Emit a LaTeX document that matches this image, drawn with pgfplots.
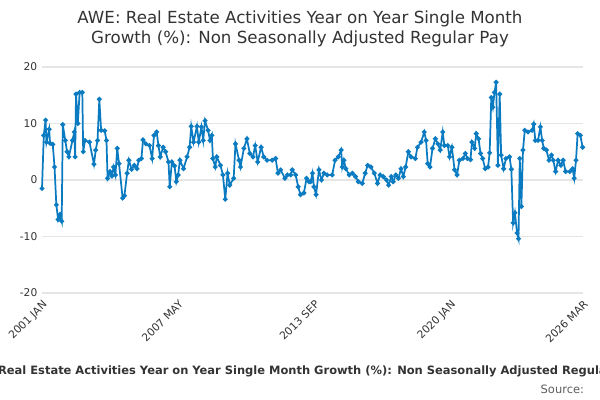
\documentclass[border=0pt]{standalone}
\usepackage{pgfplots}
\pgfplotsset{compat=1.18}
\usepackage{fontspec}
\setmainfont{DejaVu Sans}
\definecolor{ln}{HTML}{0A7BC1}
\definecolor{tx}{HTML}{333333}
\begin{document}
\begin{tikzpicture}
\clip (-31.5pt,-80.25pt) rectangle (418.5pt,219.75pt);
\begin{axis}[at={(0,0)},anchor=south west,scale only axis,
width=405.75pt,height=169.5pt,
xmin=0,xmax=302,ymin=-20,ymax=20,
ytick={-20,-10,0,10,20},
xtick={0,76,152,228,302},
xticklabels={2001 JAN,2007 MAY,2013 SEP,2020 JAN,2026 MAR},
x tick label style={rotate=45,anchor=north east,font=\fontsize{8}{9}\selectfont,text=tx},
y tick label style={font=\fontsize{8}{9}\selectfont,text=tx},
/pgf/number format/assume math mode=true,
ymajorgrids,grid style={gray!20,line width=0.8pt},
axis line style={draw=none},tick style={draw=none},
clip=false]
\addplot[ln,line width=1.3pt,mark=*,mark size=1.1pt,mark options={fill=ln,draw=ln}] coordinates {
(0,-1.5)(1,7.9)(2,10.6)(2.5,6.7)(4,9)(4.5,6.5)(6,6.3)(7,2.3)(8,-4.4)(9,-7)(10,-6.1)(11,-7.3)(11.6,9.8)(13,7)(14,5)(15,4.1)(17,7)(18,8.5)(18.5,4.1)(19,15.2)(20,10)(21,15.5)(22.5,15.5)(23,5)(24,7)(26.5,6.7)(29,2.8)(30,5.3)(31,7)(32,14.3)(33,8.8)(35,8.7)(36,7)(36.6,0.3)(38,1.5)(39,0.7)(40,2.3)(41,0.9)(42,5.6)(43,2.9)(45,-3.2)(46,-2.8)(47.5,1.2)(48.5,3.5)(50,1.9)(51.5,2.6)(53,2)(54,3.5)(55.5,3.8)(56.4,7.1)(58,6.4)(60,6.1)(61.5,3.8)(62.5,7.9)(64,8.5)(65,6.1)(66,4.1)(67.6,5.8)(69,5)(70.6,3.2)(71.3,-1.2)(72.5,3.2)(74,2.5)(75,-0.3)(76,0.9)(77,3.5)(79,2)(81,4.1)(82.4,5.8)(83.3,9.5)(84.6,6.7)(86.5,9.5)(87.5,6.7)(89,9.4)(90,7)(91,10.5)(92.7,8.8)(93.8,7)(94.8,7.9)(95.4,3.8)(96.7,2.3)(97.6,4.1)(99.6,2.6)(101,0.9)(102.3,-3.4)(103.6,1.2)(104.8,-0.9)(107,0.3)(108,6.4)(110,3.5)(110.8,2.3)(112.7,5.6)(114.4,7.3)(116,4.7)(117.8,4.1)(119,6.1)(120.4,3.2)(122.3,5.8)(123.8,4.1)(125.6,3.5)(128.5,3.5)(130.4,3.8)(131.7,1.2)(133.2,1.8)(135.6,0.3)(137,0.9)(138.8,0.9)(139.7,1.8)(141.6,0.9)(143,-1.2)(144.3,-2.6)(146.2,-2.3)(147.7,0.3)(149,-0.3)(150,-0.3)(151,1.2)(151.8,-1.2)(153,-2.6)(154.6,1.8)(156,0)(157.4,1.2)(159.2,0.9)(162,0.9)(163.6,3.5)(165.4,4.1)(167,5.3)(167.6,2.3)(168.5,3.5)(169.6,2)(171.5,0.9)(173.3,1.2)(175,0.6)(176.6,-0.3)(178.8,-0.6)(180.4,1.2)(181.8,2.6)(183.6,2.3)(185.5,1.2)(187.3,-0.6)(188.7,0.9)(190.5,0.6)(192.3,0)(193.5,-0.9)(195,0.6)(196,-0.3)(197.5,0.9)(199,0.3)(200.4,2)(201.7,0.6)(203,2.3)(204.5,5)(206,4.1)(208.4,3.8)(209.6,5.8)(211.6,6.7)(213.4,8.5)(214.4,7)(215.3,2.9)(216.6,2.3)(218,5.6)(219.6,7.3)(221,6.4)(222.3,5.3)(223.7,8.5)(224.6,6.1)(226.5,6.1)(227.5,4.1)(228.8,5.8)(230.3,1.8)(231.7,0.9)(233,3.5)(235,3.8)(236.3,4.7)(237.5,3.8)(239.2,3.6)(240,6.7)(241.5,5.6)(242.4,8.2)(243.7,7.3)(244.8,4.7)(246,3.8)(247.4,2)(249,2.3)(249.9,4.8)(250.8,14.6)(251.7,12.9)(252.6,15.5)(253.5,17.3)(254.5,2.6)(255.5,15.2)(256.3,4.4)(257.7,2)(259,3.8)(261,4.1)(262,1.9)(263,-7.6)(264,-5.8)(265.2,-9.4)(266,-10.4)(266.7,3.8)(267.6,-4.7)(268.5,5.3)(269.5,8.8)(271.3,8.5)(273.6,8.8)(274.5,9.9)(275.4,7)(276.9,7)(278.2,9.4)(279.2,7)(280.1,5.6)(281.6,5.3)(283,3.5)(284.4,4.4)(285.4,3.5)(286.7,1.5)(288.1,3.5)(289.6,2.6)(290.9,3.5)(292.3,1.5)(294.7,1.5)(296.2,2)(297.1,0.3)(298.1,3.5)(299,8.2)(300.5,7.9)(301.8,5.8)
};
\end{axis}
\node[text=tx,font=\fontsize{12.5}{15}\selectfont,align=center] at (193.5pt,198pt) {AWE: Real Estate Activities Year on Year Single Month\\Growth (\%): Non Seasonally Adjusted Regular Pay};
\node[text=tx,font=\bfseries\fontsize{8.6}{10}\selectfont] at (193.5pt,-59pt) {AWE: Real Estate Activities Year on Year Single Month Growth (\%): Non Seasonally Adjusted Regular Pay};
\node[text=tx!80,font=\fontsize{8.6}{10}\selectfont,anchor=east] at (410pt,-72.5pt) {Source:};
\end{tikzpicture}
\end{document}
